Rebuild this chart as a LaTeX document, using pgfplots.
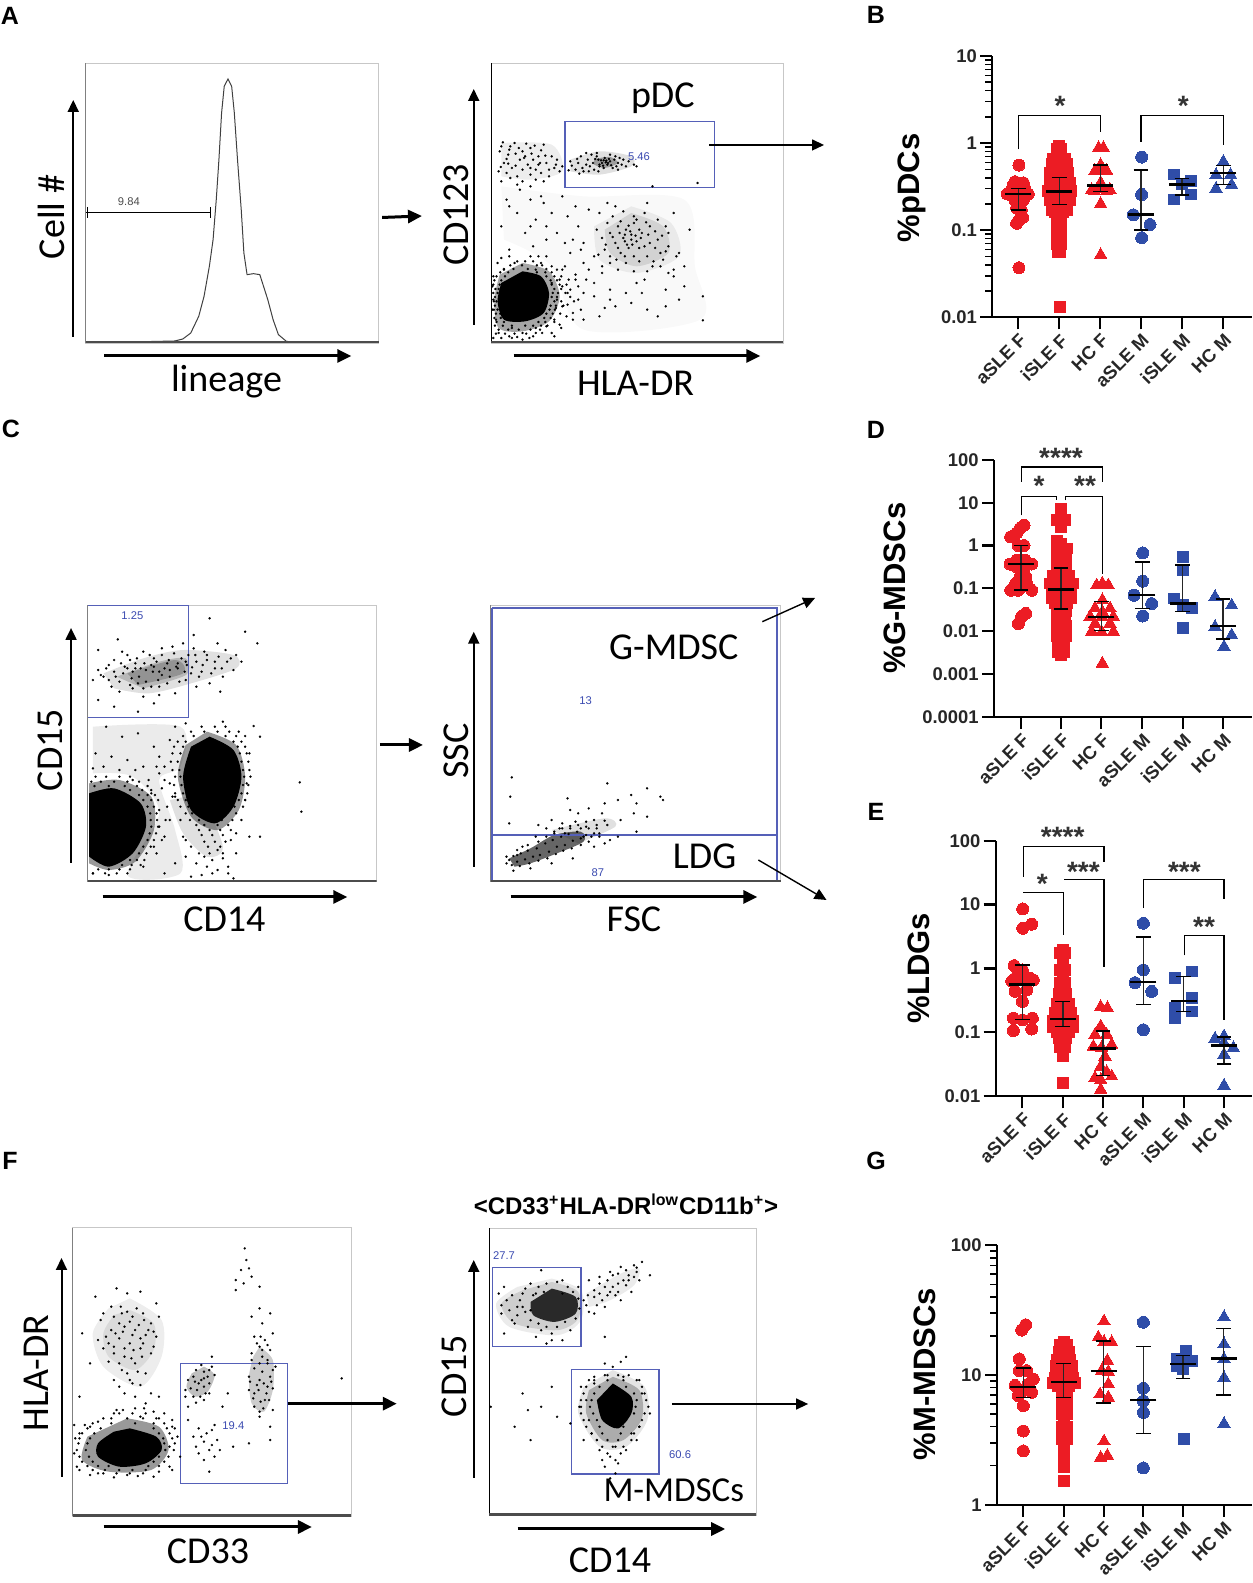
\documentclass[border=0pt]{standalone}
\usepackage{fontspec}
\setmainfont{Liberation Sans}
\newfontfamily\calib{Carlito}
\usepackage{pgfplots}
\pgfplotsset{compat=1.18}
\usetikzlibrary{arrows.meta}

\definecolor{swred}{HTML}{EC1C24}
\definecolor{swblue}{HTML}{2F4DA8}
\definecolor{gate}{HTML}{5560B8}
\definecolor{gatetxt}{HTML}{3A4AB0}

\newcommand\lab{\calib\fontsize{19}{20}\selectfont}
\newcommand\gtxt{\fontsize{5.6}{6}\selectfont\color{gatetxt}}
\newcommand\swlab{\bfseries\fontsize{15.5}{17}\selectfont}

\pgfplotsset{
  flow/.style={scale only axis,y dir=reverse,xtick=\empty,ytick=\empty,
    axis line style={black!22,line width=.4pt},clip=true},
  dots/.style={only marks,color=black,mark=*,mark size=.55pt,mark options={fill=black,line width=.1pt}},
  shade/.style={draw=none,fill=black,fill opacity=#1,smooth,forget plot},
  swarm/.style={scale only axis,clip=false,axis x line=bottom,axis y line=left,
    axis line style={-,line width=1.1pt,black},
    tick align=outside,
    major tick length=6pt,minor tick length=3.5pt,
    every tick/.style={black,line width=1.1pt},
    minor tick style={black,line width=.8pt},
    yticklabel style={font=\bfseries\fontsize{9.2}{10}\selectfont,text=black!85,inner sep=1.5pt},
    xticklabel style={font=\bfseries\fontsize{9.2}{10}\selectfont,text=black!85,rotate=45,anchor=north east,inner sep=1pt},
    xticklabels={aSLE F,iSLE F,HC F,aSLE M,iSLE M,HC M}},
  rc/.style={only marks,color=swred,mark=*,mark size=3pt,mark options={fill=swred,line width=0pt}},
  rs/.style={only marks,color=swred,mark=square*,mark size=2.7pt,mark options={fill=swred,line width=0pt}},
  rt/.style={only marks,color=swred,mark=triangle*,mark size=3.6pt,mark options={fill=swred,line width=0pt}},
  bc/.style={only marks,color=swblue,mark=*,mark size=3pt,mark options={fill=swblue,line width=0pt}},
  bs/.style={only marks,color=swblue,mark=square*,mark size=2.7pt,mark options={fill=swblue,line width=0pt}},
  bt/.style={only marks,color=swblue,mark=triangle*,mark size=3.6pt,mark options={fill=swblue,line width=0pt}},
  summ/.style={only marks,color=black,mark=-,mark size=6.5pt,mark options={line width=1.1pt,black},
    error bars/y dir=both,error bars/y explicit,
    error bars/error bar style={line width=.8pt,black!85},
    error bars/error mark options={rotate=90,mark size=3.7pt,line width=.7pt,black}},
  brk/.style={black,line width=.55pt,no marks},
  gateline/.style={gate,line width=.6pt,no marks}
}
\newcommand\stars[3]{\node[font=\bfseries\fontsize{14}{14}\selectfont,text=black!80,yshift=-3pt,inner sep=0pt] at (axis cs:#1,#2) {#3};}
\newcommand\flowframe[3]{%
  \draw[black,line width=.5pt] (rel axis cs:0,0)--(rel axis cs:0,1);
  \addplot[black!70,line width=2pt,no marks,forget plot] coordinates {(#1,#3)(#2,#3)};}

\begin{document}
\begin{tikzpicture}
\path[use as bounding box] (0,0) rectangle (626pt,791.5pt);

% A left: lineage histogram
\begin{axis}[flow,at={(42.8pt,620pt)},anchor=south west,width=146.6pt,height=140pt,
  xmin=162,xmax=714,ymin=190,ymax=1030]
\addplot[black!75,line width=.5pt,no marks] coordinates {
 (245,1027)(330,1024)(345,1018)(360,1000)(375,950)(385,890)(395,800)(402,720)(408,600)(413,480)
 (418,340)(423,260)(430,238)(437,260)(442,340)(448,480)(455,630)(460,760)(466,825)(478,822)(490,825)
 (497,860)(505,900)(515,960)(525,1005)(540,1025)(560,1029)};
\addplot[black,line width=.8pt,no marks] coordinates {(163,638)(397,638)};
\addplot[black,line width=.5pt,no marks] coordinates {(165,622)(165,655)};
\addplot[black,line width=.5pt,no marks] coordinates {(397,622)(397,655)};
\flowframe{162}{714}{1030}
\end{axis}

% A right: CD123 / HLA-DR
\begin{axis}[flow,at={(245.6pt,620pt)},anchor=south west,width=145.9pt,height=140pt,
  xmin=926,xmax=1476,ymin=190,ymax=1030]
\addplot[shade=.025] coordinates {(945,560)(1100,590)(1290,600)(1310,800)(1320,960)(1100,990)(1040,800)(950,720)} --cycle;
\addplot[shade=.07] coordinates {(945,430)(1040,435)(1060,515)(1000,540)(945,530)} --cycle;
\addplot[shade=.12] coordinates {(1075,480)(1130,455)(1190,470)(1190,500)(1130,525)(1075,515)} --cycle;
\addplot[shade=.3] coordinates {(1120,478)(1150,472)(1165,490)(1140,505)(1120,495)} --cycle;
\addplot[shade=.06] coordinates {(1190,620)(1265,670)(1280,770)(1200,820)(1130,780)(1120,680)} --cycle;
\addplot[shade=.1] coordinates {(1190,640)(1250,680)(1260,760)(1200,800)(1150,760)(1140,690)} --cycle;
\addplot[shade=.35] coordinates {(985,790)(1035,815)(1055,890)(1035,965)(985,995)(940,985)(932,900)(942,825)} --cycle;
\addplot[shade=1] coordinates {(985,815)(1020,830)(1035,880)(1025,940)(990,965)(950,960)(938,905)(945,850)} --cycle;
\addplot[dots] coordinates {
 (945,440)(958,465)(970,430)(985,455)(1000,445)(1015,470)(1025,435)(950,490)(965,505)(980,480)(995,495)(1010,510)(1030,490)
 (1045,505)(955,520)(975,530)(1000,525)(1020,520)(1050,480)(940,515)(990,470)(1005,480)(960,450)(1035,510)(1060,500)
 (1075,485)(1085,510)(1095,470)(1105,495)(1115,465)(1120,510)(1128,480)(1135,490)(1140,475)(1145,495)(1150,485)(1155,505)
 (1160,470)(1165,490)(1175,480)(1130,500)(1100,515)(1090,490)(1180,500)(1195,495)(1230,560)(1315,550)(1125,460)(1142,488)
 (1138,482)(1148,478)(980,570)(1000,600)(1020,590)(1040,640)(960,620)(945,680)(1010,660)(1050,700)(1070,650)(1090,680)
 (1110,630)(1030,720)(1005,740)(990,700)(960,750)(1075,760)(1100,790)(1060,810)(1120,850)(1150,900)(1180,880)(1220,930)
 (1280,900)(1325,890)(1325,962)(1240,950)(1160,920)(1130,950)(1080,960)(1290,800)(1300,690)(1270,640)(1220,610)(1160,620)
 (1150,700)(1165,680)(1180,690)(1195,670)(1210,700)(1225,680)(1240,720)(1160,730)(1175,715)(1190,705)(1200,725)(1215,740)
 (1185,745)(1170,760)(1195,770)(1220,770)(1245,760)(1260,740)(1140,750)(1205,690)(1190,720)(1182,735)(1230,800)(1180,790)
 (1150,790)(1120,770)(1260,700)(930,830)(935,960)(940,1000)(960,1010)(985,1000)(1010,985)(1045,960)(1060,920)(1070,880)
 (1055,840)(1040,800)(1020,790)(1000,770)(970,790)(950,810)(930,900)(1050,900)(1040,850)(1030,980)(965,985)(1075,870)(1010,810)
 (1090,900)(1105,840)(1135,820)(1200,850)(1255,870)(1100,730)(1080,720)(1125,690)(1260,820)(1215,840)(1145,610)(1280,760)
 (975,785)(990,785)(1005,785)(962,797)(984,797)(1012,797)(1022,797)(950,808)(968,808)(995,808)(1030,808)(943,818)(958,818)(1012,818)
 (1028,818)(1040,818)(936,830)(952,830)(1030,830)(1045,830)(1058,830)(932,842)(945,842)(1038,842)(1050,842)(930,855)(942,855)(1040,855)
 (1055,855)(1068,855)(934,868)(940,868)(1045,868)(1058,868)(930,880)(938,880)(1042,880)(1052,880)(1066,880)(933,892)(1040,892)(1050,892)
 (1075,892)(931,905)(936,905)(1045,905)(1058,905)(933,918)(1038,918)(1048,918)(1062,918)(931,930)(938,930)(1036,930)(1046,930)(935,942)
 (943,942)(1030,942)(1042,942)(1056,942)(932,955)(944,955)(1026,955)(1038,955)(936,967)(950,967)(1015,967)(1028,967)(1045,967)(933,978)
 (948,978)(965,978)(990,978)(1005,978)(1020,978)(1032,978)(940,990)(958,990)(978,990)(1000,990)(1018,990)(935,1002)(952,1002)(970,1002)
 (992,1002)(930,1015)(945,1015)(965,1015)
 (948,428)(962,440)(978,445)(992,432)(1008,438)(1020,452)(942,455)(955,478)(972,462)(988,475)(1002,462)(1018,490)(1028,468)(944,502)
 (958,492)(972,498)(985,510)(1000,505)(1015,495)(1040,470)(1048,495)(1055,515)(962,535)(945,545)(985,545)(1010,540)(1035,530)(975,555)
 (1000,560)(1025,545)(1078,498)(1088,478)(1098,505)(1108,480)(1112,500)(1118,490)(1125,470)(1130,495)(1133,482)(1137,498)(1143,483)
 (1146,490)(1152,497)(1158,480)(1162,500)(1168,475)(1172,495)(1185,485)(1122,478)(1110,515)(1092,522)(1072,512)(1150,465)(1138,505)
 (1128,515)(1200,500)(1165,510)(1105,460)(1130,640)(1155,650)(1175,635)(1195,650)(1215,640)(1240,660)(1145,670)(1170,665)(1185,678)
 (1200,660)(1218,668)(1235,695)(1255,680)(1135,715)(1155,712)(1168,700)(1178,705)(1188,695)(1198,708)(1208,715)(1222,705)(1248,708)
 (1142,735)(1165,745)(1178,725)(1192,735)(1205,745)(1225,730)(1235,745)(1255,755)(1128,765)(1150,770)(1162,780)(1178,770)(1205,785)
 (1232,785)(1250,780)(1275,770)(1135,800)(1165,810)(1195,815)(1220,815)(1245,800)(1270,810)(955,600)(975,640)(1000,680)(1025,610)
 (1060,590)(1085,620)(1030,680)(1065,730)(1095,750)(1110,810)(1085,840)(1120,890)(1150,870)(1190,910)(1255,920)(1290,860)(1095,930)
 (1140,925)(1210,880)(1270,830)
 (945,775)(1015,770)(1050,810)(1072,840)(1082,905)(1068,950)(1058,985)(1040,1000)(1005,1010)(1080,940)(1090,860)(1065,800)(1030,770)
 (960,770)(1085,825)(1100,880)(1100,960)(1045,1010)(985,1020)(938,790)(928,860)(928,930)(1060,860)(1048,925)(1055,975)(1022,1000)
 (998,1015)(975,1012)(1010,1000)(1070,915)};
\addplot[gateline] coordinates {(1065,365)(1347,365)(1347,563)(1065,563)(1065,365)};
\flowframe{926}{1476}{1030}
\end{axis}

% C left: CD15 / CD14
\begin{axis}[flow,at={(43.8pt,350.65pt)},anchor=south west,width=144.55pt,height=138.35pt,
  xmin=165,xmax=710,ymin=75,ymax=905]
\addplot[shade=.08] coordinates {(175,440)(340,440)(340,560)(300,600)(330,750)(340,880)(240,885)(300,700)(250,590)(175,580)} --cycle;
\addplot[shade=.12] coordinates {(195,280)(270,235)(345,210)(440,225)(445,265)(360,310)(280,340)(215,325)} --cycle;
\addplot[shade=.18] coordinates {(220,290)(300,245)(350,235)(350,285)(270,325)} --cycle;
\addplot[shade=.2] coordinates {(240,280)(330,240)(345,280)(260,315)} --cycle;
\addplot[shade=.12] coordinates {(320,660)(345,760)(390,830)(420,800)(380,640)} --cycle;
\addplot[shade=.4] coordinates {(168,610)(225,600)(285,650)(290,750)(255,845)(205,870)(168,850)} --cycle;
\addplot[shade=.4] coordinates {(390,455)(445,495)(462,590)(450,690)(410,750)(360,710)(335,590)(350,495)} --cycle;
\addplot[shade=1] coordinates {(168,640)(215,625)(265,670)(275,740)(250,820)(205,860)(168,830)} --cycle;
\addplot[shade=1] coordinates {(395,470)(440,510)(455,590)(440,680)(405,730)(360,690)(345,590)(360,500)} --cycle;
\addplot[dots] coordinates {
 (395,115)(365,165)(462,155)(485,190)(222,178)(185,210)(230,215)(215,240)(240,225)(255,250)(270,215)(290,235)(305,205)(325,200)
 (345,190)(365,205)(385,215)(410,190)(425,210)(445,225)(455,245)(440,270)(420,290)(395,310)(370,320)(350,300)(330,340)(300,345)
 (270,350)(250,325)(225,335)(205,300)(190,285)(175,300)(200,265)(215,275)(235,260)(250,275)(265,265)(285,255)(300,275)(315,250)
 (335,265)(352,255)(370,245)(390,240)(405,265)(380,275)(360,280)(215,380)(290,370)(260,395)(185,360)(415,335)
 (200,440)(230,470)(260,460)(290,500)(180,520)(210,530)(240,540)(270,560)(300,580)(320,480)(330,440)(350,430)(420,425)(478,438)(490,470)
 (470,520)(465,610)(462,660)(455,720)(470,770)(445,820)(430,860)(400,880)(370,850)(350,780)(310,770)(290,800)(270,860)(240,880)(205,885)
 (175,880)(320,720)(325,650)(310,600)(300,690)(285,640)(490,770)(565,607)(568,695)(400,840)(410,810)(385,830)(360,890)(440,895)(310,880)
 (180,590)(200,590)(225,590)(245,590)(172,605)(190,605)(215,605)(240,605)(262,605)(178,618)(205,618)(235,618)(258,618)(278,618)(245,630)
 (268,630)(285,630)(262,645)(278,645)(292,645)(270,660)(285,660)(298,660)(278,680)(290,680)(283,700)(295,700)(284,720)(296,720)(312,720)
 (285,740)(298,740)(282,760)(294,760)(278,780)(290,780)(305,780)(270,800)(284,800)(262,820)(276,820)(295,820)(245,840)(258,840)(272,840)
 (230,855)(248,855)(265,855)(185,868)(205,868)(225,868)(245,868)(175,880)(198,880)(220,880)
 (380,440)(405,440)(425,440)(360,455)(385,455)(410,455)(432,455)(450,455)(345,468)(365,468)(425,468)(445,468)(462,468)(335,485)(350,485)
 (440,485)(455,485)(328,500)(345,500)(448,500)(462,500)(325,520)(340,520)(452,520)(465,520)(322,545)(335,545)(455,545)(468,545)(325,570)
 (338,570)(458,570)(470,570)(330,590)(340,590)(460,590)(472,590)(328,615)(342,615)(458,615)(468,615)(330,640)(345,640)(455,640)(466,640)
 (335,660)(350,660)(450,660)(462,660)(340,680)(355,680)(442,680)(458,680)(350,700)(362,700)(425,700)(445,700)(358,720)(375,720)(418,720)
 (438,720)(370,735)(385,735)(410,735)(430,735)(375,750)(395,750)(415,750)(435,750)(380,765)(400,765)(420,765)(385,785)(405,785)(425,785)
 (392,800)(415,800)(395,820)(420,820)
 (185,270)(195,290)(205,255)(218,290)(228,250)(232,280)(245,240)(248,295)(258,235)(262,290)(272,250)(275,305)(282,225)(288,275)(295,245)
 (298,300)(305,225)(310,265)(318,240)(320,290)(328,220)(332,260)(338,305)(342,235)(348,275)(355,225)(362,262)(368,225)(375,290)(382,255)
 (390,225)(398,280)(405,245)(412,230)(418,265)(428,245)(435,235)(260,310)(245,315)(270,325)(285,320)(300,320)(315,310)(225,305)(210,320)
 (240,265)(255,265)(275,270)(290,260)(305,285)(320,270)(335,250)(350,245)
 (300,530)(310,560)(280,600)(320,610)(330,650)(340,720)(300,740)(315,680)(305,625)(295,560)(255,570)(225,570)(195,560)(175,565)(345,770)
 (360,800)(375,820)(350,830)(420,835)(435,780)(445,760)(390,860)(410,870)(380,885)(430,880)(330,850)(250,600)};
\addplot[gateline] coordinates {(166,77)(355,77)(355,413)(166,413)};
\flowframe{165}{710}{905}
\end{axis}

% C right: SSC / FSC
\begin{axis}[flow,at={(245.3pt,350.65pt)},anchor=south west,width=145.1pt,height=138.35pt,
  xmin=925,xmax=1472,ymin=75,ymax=905]
\addplot[shade=.12] coordinates {(1040,750)(1140,715)(1160,740)(1090,790)} --cycle;
\addplot[shade=.6] coordinates {(960,835)(1000,805)(1045,765)(1095,755)(1100,785)(1050,820)(1000,850)(970,860)} --cycle;
\addplot[dots] coordinates {
 (965,592)(962,650)(960,730)(1045,760)(1070,655)(1075,690)(1090,700)(1110,685)(1120,720)(1105,740)(1135,700)(1145,610)(1140,670)
 (1165,660)(1170,720)(1190,645)(1200,670)(1220,625)(1250,660)(1220,710)(1200,755)(1165,770)(1140,790)(1120,800)(1080,835)
 (1040,850)(1000,865)(968,872)(955,830)(1015,735)(1040,720)(1060,730)(1085,725)(1125,745)(1145,735)(1130,760)(1150,780)
 (1065,760)(1030,745)(1010,770)(985,800)(975,825)(1115,770)(1100,770)(1095,745)(1075,745)(1055,745)(1245,650)(1195,700)
 (960,840)(968,828)(975,845)(982,820)(990,838)(995,812)(1005,830)(1012,805)(1018,825)(1028,790)(1035,815)(1042,780)(1050,800)(1058,770)
 (1065,795)(1072,762)(1080,782)(1088,755)(1095,775)(1105,765)(1110,745)(1120,760)(965,855)(980,858)(998,850)(1015,842)(1032,835)(1048,822)
 (1062,812)(1078,805)(1095,795)(1110,785)(955,850)(975,810)(995,795)(1015,785)(1030,770)(1045,755)(1060,745)(1075,738)(1090,735)(1105,725)
 (1125,735)(1140,722)(1130,770)};
\addplot[gateline,line width=.9pt] coordinates {(927,83)(1465,83)(1465,900)};
\addplot[gateline,line width=.9pt] coordinates {(927,83)(927,900)};
\addplot[gateline,line width=.9pt] coordinates {(927,766)(1465,766)};
\flowframe{925}{1472}{905}
\end{axis}

% F left: HLA-DR / CD33
\begin{axis}[flow,at={(36.3pt,33.5pt)},anchor=south west,width=139.3pt,height=144.15pt,
  xmin=137,xmax=663,ymin=143,ymax=1008]
\addplot[shade=.07] coordinates {(245,355)(305,420)(305,530)(265,620)(195,560)(175,460)(205,385)} --cycle;
\addplot[shade=.08] coordinates {(245,390)(290,430)(290,510)(255,570)(205,530)(195,460)(215,405)} --cycle;
\addplot[shade=.25] coordinates {(385,560)(405,585)(392,635)(368,650)(352,620)(362,580)} --cycle;
\addplot[shade=.2] coordinates {(490,500)(515,540)(515,630)(498,695)(475,670)(470,590)(478,530)} --cycle;
\addplot[shade=.4] coordinates {(240,715)(300,740)(318,810)(285,870)(205,875)(155,840)(165,770)} --cycle;
\addplot[shade=1] coordinates {(245,745)(295,770)(305,810)(275,850)(225,860)(185,830)(185,790)(215,755)} --cycle;
\addplot[dots] coordinates {
 (462,205)(465,240)(455,270)(470,265)(445,300)(460,310)(475,290)(490,320)(445,330)(220,325)(180,350)(240,340)(265,335)(295,370)
 (210,380)(190,420)(230,400)(250,410)(270,400)(285,430)(300,410)(210,450)(235,440)(255,450)(275,465)(295,470)(185,480)(205,490)
 (225,475)(245,490)(265,505)(285,520)(155,460)(170,550)(215,520)(235,530)(255,550)(275,580)(240,580)(250,610)(225,620)(285,640)
 (300,650)(490,385)(510,400)(475,410)(495,430)(515,460)(480,470)(500,480)(490,500)(510,510)(475,520)(495,530)(520,560)(470,590)
 (490,600)(505,620)(480,640)(500,660)(515,690)(490,710)(510,740)(400,530)(380,555)(395,570)(365,590)(375,610)(385,595)(350,630)
 (365,650)(395,640)(355,680)(430,640)(420,680)(400,750)(380,770)(410,780)(370,800)(395,810)(385,840)(395,875)(440,800)(470,790)
 (510,780)(325,740)(320,860)(150,870)(185,880)(240,885)(290,890)(140,820)(150,760)(170,740)(210,715)(265,710)(300,715)(320,800)
 (220,690)(645,595)(140,735)(150,650)
 (225,700)(250,700)(275,700)(195,715)(240,715)(270,715)(295,715)(175,730)(210,730)(255,730)(290,730)(310,730)(165,745)(190,745)(290,745)
 (315,745)(155,760)(178,760)(300,760)(320,760)(150,775)(170,775)(308,775)(325,775)(148,790)(165,790)(310,790)(330,790)(145,810)(162,810)
 (312,810)(328,810)(150,830)(168,830)(300,830)(318,830)(155,845)(175,845)(290,845)(310,845)(165,858)(185,858)(205,858)(280,858)(300,858)
 (175,870)(198,870)(225,870)(250,870)(275,870)(195,880)(220,880)(245,880)(270,880)
 (195,400)(215,410)(228,380)(240,395)(258,385)(272,420)(225,430)(245,425)(262,435)(280,450)(200,470)(218,460)(232,455)(250,465)(265,475)
 (290,455)(195,505)(215,500)(235,505)(252,510)(270,490)(290,500)(225,550)(248,535)(268,530)(205,545)(230,570)(260,575)(245,600)(265,615)
 (215,600)(235,640)(255,650)(275,670)(370,570)(385,575)(400,560)(355,600)(368,605)(380,600)(392,590)(405,585)(360,625)(372,630)(385,620)
 (395,610)(350,650)(378,650)(388,640)(370,668)(385,660)(475,540)(490,550)(505,540)(515,570)(480,565)(495,575)(510,590)(472,605)(485,615)
 (498,610)(512,605)(470,630)(488,630)(503,640)(515,625)(478,655)(492,665)(508,660)(480,680)(497,685)(490,695)(505,550)(495,510)(485,490)
 (505,495)(492,470)(355,720)(375,745)(390,760)(405,735)(365,770)(385,785)(400,795)(415,810)(375,820)(405,830)
 (160,735)(185,725)(215,700)(255,685)(290,695)(325,720)(335,770)(340,830)(325,870)(300,875)(260,888)(215,892)(170,885)(145,860)(135,800)
 (142,775)(232,690)(272,685)(310,700)(330,745)};
\addplot[gateline] coordinates {(340,550)(542,550)(542,910)(340,910)(340,550)};
\flowframe{137}{663}{1008}
\end{axis}

% F right: CD15 / CD14
\begin{axis}[flow,at={(244.6pt,34pt)},anchor=south west,width=133.4pt,height=143.5pt,
  xmin=922,xmax=1425,ymin=143,ymax=1005]
\addplot[shade=.08] coordinates {(1040,295)(1095,330)(1095,420)(1050,465)(960,440)(935,370)(975,320)} --cycle;
\addplot[shade=.12] coordinates {(1040,305)(1090,335)(1090,415)(1050,450)(970,430)(945,370)(985,330)} --cycle;
\addplot[shade=.08] coordinates {(1105,340)(1170,280)(1205,265)(1195,315)(1150,360)(1110,380)} --cycle;
\addplot[shade=.8] coordinates {(1040,325)(1085,350)(1085,400)(1045,425)(1005,405)(1000,365)} --cycle;
\addplot[shade=.1] coordinates {(1155,570)(1215,620)(1220,720)(1180,800)(1130,800)(1090,700)(1100,620)} --cycle;
\addplot[shade=.25] coordinates {(1155,590)(1205,630)(1210,715)(1175,780)(1135,780)(1105,700)(1110,630)} --cycle;
\addplot[shade=1] coordinates {(1155,610)(1190,650)(1190,700)(1165,745)(1135,720)(1125,660)} --cycle;
\addplot[dots] coordinates {
 (1020,270)(940,340)(955,360)(945,400)(965,420)(950,460)(985,340)(975,380)(995,440)(1010,470)(1030,490)(1060,480)(1075,450)(1000,310)
 (1060,300)(1090,320)(1110,300)(1130,290)(1150,275)(1170,260)(1195,255)(1210,245)(1225,285)(1205,300)(1190,335)(1170,360)(1140,380)
 (1120,400)(1105,375)(1130,340)(1155,320)(1175,300)(1145,345)(1120,350)(1165,335)(1185,285)(1140,470)(1170,545)(1180,530)(1155,560)
 (1140,550)(1120,590)(985,640)(970,740)(995,690)(1040,620)(1020,680)(1050,710)(1000,780)(1075,730)(925,680)(1100,780)(1105,660)
 (1095,620)(1210,640)(1225,700)(1200,780)(1180,810)(1130,810)(1150,830)(1165,850)(1140,860)(1160,880)(1150,895)(1125,780)(1110,720)
 (1205,600)(1120,610)(1145,585)(1175,590)(1205,740)(1095,680)(1110,600)(1115,760)(1190,760)(1160,800)
 (950,320)(965,345)(980,360)(990,325)(1005,345)(1015,320)(1030,310)(1050,305)(1070,320)(1080,335)(945,375)(960,390)(975,405)(990,395)
 (1000,420)(1015,430)(1030,440)(1050,440)(1065,425)(1085,415)(1092,385)(1090,355)(1010,340)(1025,335)(1060,340)(1000,390)(985,380)
 (1020,450)(1040,460)(970,430)(1040,480)(1108,345)(1120,330)(1130,310)(1145,300)(1155,285)(1165,280)(1180,270)(1200,262)(1195,290)
 (1180,315)(1165,310)(1150,335)(1135,360)(1125,375)(1110,395)(1100,360)(1160,345)(1140,320)(1185,300)(1200,275)
 (1140,585)(1165,585)(1185,585)(1120,600)(1145,600)(1175,600)(1200,600)(1105,620)(1130,620)(1180,620)(1210,620)(1100,640)(1120,640)
 (1195,640)(1215,640)(1095,660)(1115,660)(1200,660)(1218,660)(1092,680)(1112,680)(1198,680)(1222,680)(1095,700)(1118,700)(1195,700)
 (1215,700)(1100,720)(1125,720)(1180,720)(1210,720)(1105,740)(1130,740)(1175,740)(1205,740)(1115,760)(1135,760)(1170,760)(1195,760)
 (1125,780)(1145,780)(1165,780)(1190,780)(1135,800)(1155,800)(1175,800)(1145,820)(1170,820)(1135,840)(1160,840)};
\addplot[gateline] coordinates {(928,262)(1095,262)(1095,498)(928,498)(928,262)};
\addplot[gateline] coordinates {(1077,569)(1242,569)(1242,882)(1077,882)(1077,569)};
\flowframe{922}{1425}{1005}
\end{axis}

% B
\begin{axis}[swarm,at={(496.15pt,632.85pt)},anchor=south west,width=129.85pt,height=130.65pt,
  ymode=log,xmin=397,xmax=1176,ymin=0.01,ymax=10,
  xtick={475,598,721,843,966,1090},
  ytick={0.01,0.1,1,10},yticklabels={0.01,0.1,1,10},
  minor ytick={0.02,0.03,0.04,0.05,0.06,0.07,0.08,0.09,0.2,0.3,0.4,0.5,0.6,0.7,0.8,0.9,2,3,4,5,6,7,8,9}]
\addplot[rc] coordinates {(477,.56)(477,.037)(465,.36)(490,.35)(460,.33)(495,.3)(452,.28)(477,.3)(442,.26)(505,.26)(477,.26)
 (465,.22)(490,.22)(477,.2)(470,.18)(484,.17)(484,.15)(477,.13)(470,.12)(488,.14)};
\addplot[rs] coordinates {(598,.92)(592,.85)(604,.85)(598,.75)(580,.65)(616,.65)(598,.65)(576,.58)(620,.58)(586,.55)(610,.55)
 (571,.45)(625,.45)(580,.42)(616,.42)(598,.45)(569,.35)(629,.35)(586,.35)(610,.35)(598,.33)(565,.28)(632,.28)(580,.28)(616,.28)
 (598,.27)(569,.22)(629,.22)(586,.22)(610,.22)(575,.17)(620,.17)(598,.18)(586,.16)(610,.16)(592,.13)(604,.13)(598,.11)(592,.095)
 (604,.095)(598,.08)(592,.07)(604,.07)(598,.06)(595,.056)(601,.056)(600,.013)};
\addplot[rt] coordinates {(716,.88)(730,.88)(722,.56)(722,.5)(705,.48)(740,.48)(722,.35)(695,.29)(750,.29)(722,.3)(703,.28)(740,.28)(722,.2)(722,.052)};
\addplot[bc] coordinates {(845,.69)(845,.257)(820,.15)(870,.116)(845,.082)};
\addplot[bs] coordinates {(943,.436)(993,.366)(943,.225)(993,.257)(966,.335)};
\addplot[bt] coordinates {(1090,.61)(1068,.43)(1112,.43)(1068,.3)(1115,.33)};
\end{axis}
\begin{axis}[swarm,hide axis,at={(496.15pt,632.85pt)},anchor=south west,width=129.85pt,height=130.65pt,
  ymode=log,xmin=397,xmax=1176,ymin=0.01,ymax=10]
\addplot[summ] coordinates {(475,.262) +=(0,.04) -=(0,.092) (598,.278) +=(0,.122) -=(0,.081) (721,.326) +=(0,.234) -=(0,.05)
 (843,.151) +=(0,.339) -=(0,.05) (966,.335) +=(0,.055) -=(0,.082) (1090,.456) +=(0,.094) -=(0,.121)};
\addplot[brk] coordinates {(475,.846)(475,2.06)(721,2.06)(721,1.35)};
\addplot[brk] coordinates {(843,1.04)(843,2.06)(1090,2.06)(1090,.95)};
\stars{600}{3.1}{*}
\stars{970}{3.1}{*}
\end{axis}

% D
\begin{axis}[swarm,at={(497pt,433.15pt)},anchor=south west,width=129pt,height=128.35pt,
  ymode=log,xmin=402,xmax=1176,ymin=0.0001,ymax=100,yminorticks=false,
  xtick={483,603,724,847,968,1089},
  ytick={0.0001,0.001,0.01,0.1,1,10,100},yticklabels={0.0001,0.001,0.01,0.1,1,10,100}]
\addplot[rc] coordinates {(492,2.98)(480,2.5)(470,1.97)(460,1.6)(452,1.6)(492,1)(475,1)(470,.455)(495,.455)(450,.37)(515,.37)(470,.32)
 (495,.32)(480,.185)(497,.185)(467,.13)(500,.13)(452,.09)(515,.09)(475,.09)(497,.026)(485,.022)(475,.015)};
\addplot[rs] coordinates {(603,7.3)(603,5.1)(592,4)(614,4)(603,2.7)(590,1.3)(603,1.1)(620,.85)(590,.9)(603,.65)(590,.5)(618,.5)(603,.4)(590,.3)
 (618,.3)(603,.25)(580,.2)(628,.2)(603,.18)(570,.13)(640,.13)(590,.13)(618,.13)(575,.09)(632,.09)(603,.1)(590,.08)(618,.08)(575,.06)
 (632,.06)(603,.06)(585,.045)(622,.045)(603,.04)(590,.03)(618,.03)(603,.025)(592,.02)(614,.02)(603,.016)(590,.013)(618,.013)(590,.0095)
 (618,.0095)(603,.01)(590,.0075)(618,.0075)(603,.0065)(595,.005)(612,.005)(603,.004)(595,.0033)(612,.0033)(603,.0028)};
\addplot[rt] coordinates {(727,.13)(710,.118)(745,.118)(727,.053)(705,.034)(750,.034)(727,.028)(690,.0217)(760,.0217)(727,.021)(705,.015)
 (750,.015)(695,.0097)(760,.0097)(725,.0095)(727,.00175)};
\addplot[bc] coordinates {(848,.674)(848,.147)(822,.069)(875,.044)(848,.0225)};
\addplot[bs] coordinates {(968,.544)(968,.266)(942,.0577)(995,.034)(968,.012)(968,.04)};
\addplot[bt] coordinates {(1065,.063)(1115,.04)(1065,.0126)(1115,.008)(1092,.0043)};
\end{axis}
\begin{axis}[swarm,hide axis,at={(497pt,433.15pt)},anchor=south west,width=129pt,height=128.35pt,
  ymode=log,xmin=402,xmax=1176,ymin=0.0001,ymax=100]
\addplot[summ] coordinates {(483,.367) +=(0,.633) -=(0,.275) (603,.094) +=(0,.202) -=(0,.061) (724,.021) +=(0,.029) -=(0,.0108)
 (847,.0706) +=(0,.339) -=(0,.0366) (968,.044) +=(0,.31) -=(0,.015) (1089,.0133) +=(0,.0427) -=(0,.0067)};
\addplot[brk] coordinates {(485,30.6)(485,68.6)(728,68.6)(728,30.6)};
\addplot[brk] coordinates {(485,5.1)(485,14.2)(590,14.2)(590,11.4)};
\addplot[brk] coordinates {(617,11.4)(617,14.2)(728,14.2)(728,.214)};
\stars{603}{154}{****}
\stars{537}{33.6}{*}
\stars{675}{33.6}{**}
\end{axis}

% E
\begin{axis}[swarm,at={(497.85pt,243.35pt)},anchor=south west,width=128.15pt,height=127.8pt,
  ymode=log,xmin=407,xmax=1176,ymin=0.01,ymax=100,yminorticks=false,
  xtick={487,608,729,850,971,1092},
  ytick={0.01,0.1,1,10,100},yticklabels={0.01,0.1,1,10,100}]
\addplot[rc] coordinates {(488,8.55)(488,4.26)(515,4.93)(462,1.11)(487,.95)(465,.7)(510,.7)(487,.7)(520,.66)(455,.63)(465,.44)(500,.46)
 (487,.305)(460,.167)(487,.157)(517,.167)(460,.107)(515,.113)};
\addplot[rs] coordinates {(608,1.96)(600,1.75)(616,1.75)(608,1.5)(608,1.07)(600,.95)(616,.95)(608,.75)(600,.6)(616,.6)(608,.48)(598,.4)(618,.4)
 (608,.33)(590,.28)(626,.28)(608,.25)(585,.2)(632,.2)(600,.2)(618,.2)(580,.15)(638,.15)(595,.15)(622,.15)(608,.14)(578,.12)(640,.12)
 (595,.115)(622,.115)(590,.1)(626,.1)(608,.1)(598,.08)(618,.08)(608,.07)(600,.058)(616,.058)(608,.05)(608,.043)(608,.016)};
\addplot[rt] coordinates {(722,.25)(742,.24)(722,.124)(705,.092)(740,.092)(755,.064)(700,.06)(725,.058)(735,.042)(722,.029)(705,.0194)(755,.0205)
 (722,.018)(740,.024)(722,.0127)};
\addplot[bc] coordinates {(850,5.1)(850,.95)(825,.6)(875,.437)(850,.11)};
\addplot[bs] coordinates {(945,.706)(997,.9)(997,.344)(945,.24)(997,.213)(945,.167)};
\addplot[bt] coordinates {(1092,.087)(1065,.08)(1120,.057)(1092,.045)(1092,.0147)(1092,.068)};
\end{axis}
\begin{axis}[swarm,hide axis,at={(497.85pt,243.35pt)},anchor=south west,width=128.15pt,height=127.8pt,
  ymode=log,xmin=407,xmax=1176,ymin=0.01,ymax=100]
\addplot[summ] coordinates {(487,.56) +=(0,.58) -=(0,.4) (608,.163) +=(0,.142) -=(0,.039) (729,.056) +=(0,.049) -=(0,.0347)
 (850,.62) +=(0,2.48) -=(0,.346) (971,.31) +=(0,.44) -=(0,.097) (1092,.0625) +=(0,.0225) -=(0,.0305)};
\addplot[brk] coordinates {(490,27.4)(490,80.7)(732,80.7)(732,46.9)};
\addplot[brk] coordinates {(490,15.4)(610,15.4)(610,3.36)};
\addplot[brk] coordinates {(612,24.9)(732,24.9)(732,1.04)};
\addplot[brk] coordinates {(850,8.8)(850,24.9)(1092,24.9)(1092,12.4)};
\addplot[brk] coordinates {(973,1.6)(973,3.28)(1092,3.28)(1092,.158)};
\stars{608}{141}{****}
\stars{547}{25.8}{*}
\stars{670}{41}{***}
\stars{973}{41}{***}
\stars{1032}{5.6}{**}
\end{axis}

% G
\begin{axis}[swarm,at={(498.5pt,39.15pt)},anchor=south west,width=127.5pt,height=129.7pt,
  ymode=log,xmin=411,xmax=1176,ymin=1,ymax=100,
  xtick={490,611,731,850,969,1091},
  ytick={1,10,100},yticklabels={1,10,100},
  minor ytick={2,3,4,5,6,7,8,9,20,30,40,50,60,70,80,90}]
\addplot[rc] coordinates {(497,24.4)(485,22.2)(478,13.3)(478,10.8)(500,10.8)(520,9.3)(465,8.3)(515,7.35)(490,7.6)(475,6.9)(490,5.8)(490,3.7)(490,2.6)(505,8.5)};
\addplot[rs] coordinates {(612,18)(600,17)(622,17)(612,15.5)(598,15)(626,15)(612,14)(592,13)(630,13)(612,12.5)(588,11.8)(635,11.8)(600,11)(622,11)
 (612,10.5)(585,9.5)(640,9.5)(600,9.3)(622,9.3)(612,9)(580,8.7)(645,8.7)(595,8.2)(628,8.2)(612,8)(605,7.2)(620,7.2)(612,6.6)(605,6)(620,6)
 (612,5.4)(605,5)(620,5)(612,4.5)(605,4)(620,4)(612,3.6)(605,3.2)(620,3.2)(612,2.9)(612,2.6)(612,2.35)(612,2.1)(612,1.95)(612,1.53)};
\addplot[rt] coordinates {(732,25.9)(715,19.5)(755,17.9)(732,18)(742,12.9)(725,10.8)(745,10.6)(745,8.5)(720,7.1)(745,6.7)(732,3.08)(742,2.39)(722,2.3)};
\addplot[bc] coordinates {(850,25.5)(850,7.9)(850,6.3)(850,5.15)(850,1.92)};
\addplot[bs] coordinates {(978,15.4)(950,13.3)(995,12.9)(970,12.5)(950,11.8)(970,11.1)(972,3.2)};
\addplot[bt] coordinates {(1092,27.9)(1092,17.3)(1092,13.3)(1092,9.5)(1092,4.2)};
\end{axis}
\begin{axis}[swarm,hide axis,at={(498.5pt,39.15pt)},anchor=south west,width=127.5pt,height=129.7pt,
  ymode=log,xmin=411,xmax=1176,ymin=1,ymax=100]
\addplot[summ] coordinates {(490,8.1) +=(0,3.2) -=(0,1.4) (611,8.8) +=(0,3.4) -=(0,2.1) (731,10.8) +=(0,7.5) -=(0,4.7)
 (850,6.45) +=(0,10.05) -=(0,2.9) (969,12.2) +=(0,2) -=(0,2.8) (1091,13.4) +=(0,9.4) -=(0,6.4)};
\end{axis}

% panel letters and right column labels, in pixels of the reference
\begin{scope}[x=.5pt,y=-.5pt,yshift=791.5pt]
\tikzset{pl/.style={font=\bfseries\fontsize{12.5}{13}\selectfont}}
\node[pl] at (10,16) {A};
\node[pl] at (876,15) {B};
\node[pl] at (11,429) {C};
\node[pl] at (876,430) {D};
\node[pl] at (876,812) {E};
\node[pl] at (10,1161) {F};
\node[pl] at (876,1161) {G};
\node[font=\swlab,rotate=90] at (912,188) {\%pDCs};
\node[font=\swlab,rotate=90] at (895,588) {\%G-MDSCs};
\node[font=\swlab,rotate=90] at (919,968) {\%LDGs};
\node[font=\swlab,rotate=90] at (925,1374) {\%M-MDSCs};
\end{scope}

% flow panel text and arrows
\begin{scope}[x=.4976pt,y=-.5pt,yshift=791.5pt]
\tikzset{big/.style={line width=1.5pt,-{Triangle[length=7pt,width=6.5pt]}},
 thin/.style={line width=.7pt,-{Triangle[length=6pt,width=5.5pt]}}}
% A
\draw[thin,line width=1pt] (73.6,337)--(73.6,100);
\draw[big] (105,356)--(353,356);
\node[font=\lab,rotate=90] at (52,217) {Cell \#};
\node[font=\lab] at (227.6,382) {lineage};
\node[font=\gtxt,text=black!70] at (129.5,202) {9.84};
\draw[big] (384,217.5)--(424,216);
\draw[thin,line width=1pt] (476,325)--(476,89);
\draw[big] (516,356)--(764,356);
\node[font=\lab,rotate=90] at (458,215) {CD123};
\node[font=\lab] at (638.6,383) {HLA-DR};
\node[font=\lab] at (666,98) {pDC};
\node[font=\gtxt] at (642,156.7) {5.46};
\draw[thin] (712.7,145)--(828,145);
% C
\draw[thin,line width=1pt] (71.4,863)--(71.4,628);
\draw[big] (103,897)--(349,897);
\node[font=\lab,rotate=90] at (50.6,750) {CD15};
\node[font=\lab] at (225.5,919) {CD14};
\node[font=\gtxt] at (133,615.7) {1.25};
\draw[big] (381.7,745)--(425,745);
\draw[thin,line width=1pt] (476,866.7)--(476,631.7);
\draw[big] (513,897)--(761,897);
\node[font=\lab,rotate=90] at (458,751) {SSC};
\node[font=\lab] at (637,919) {FSC};
\node[font=\lab] at (677,647.7) {G-MDSC};
\node[font=\lab] at (708,856.7) {LDG};
\node[font=\gtxt] at (588.5,701) {13};
\node[font=\gtxt,fill=white,inner sep=1pt] at (600.7,873) {87};
\draw[thin] (766,621.7)--(819,598);
\draw[thin] (762,860)--(830.5,900);
% F
\draw[thin,line width=1pt] (61.8,1476.7)--(61.8,1258);
\draw[big] (104,1527)--(313.4,1527);
\node[font=\lab,rotate=90] at (36,1373) {HLA-DR};
\node[font=\lab] at (209,1551.7) {CD33};
\node[font=\gtxt] at (234.5,1426) {19.4};
\draw[big] (289,1403.7)--(398.7,1403.7);
\draw[thin,line width=1pt] (476,1478)--(476,1260);
\draw[big] (520,1529)--(728.7,1529);
\node[font=\lab,rotate=90] at (456,1376) {CD15};
\node[font=\lab] at (613,1560) {CD14};
\node[font=\gtxt] at (506.4,1256) {27.7};
\node[font=\gtxt] at (683.4,1455) {60.6};
\node[font=\calib\fontsize{17.5}{18}\selectfont] at (677,1490.7) {M-MDSCs};
\draw[thin] (675,1404)--(812,1404);
\node[font=\bfseries\fontsize{12}{13}\selectfont] at (629,1204) {<CD33\textsuperscript{+}HLA-DR\textsuperscript{low}CD11b\textsuperscript{+}>};
\end{scope}
\end{tikzpicture}
\end{document}
